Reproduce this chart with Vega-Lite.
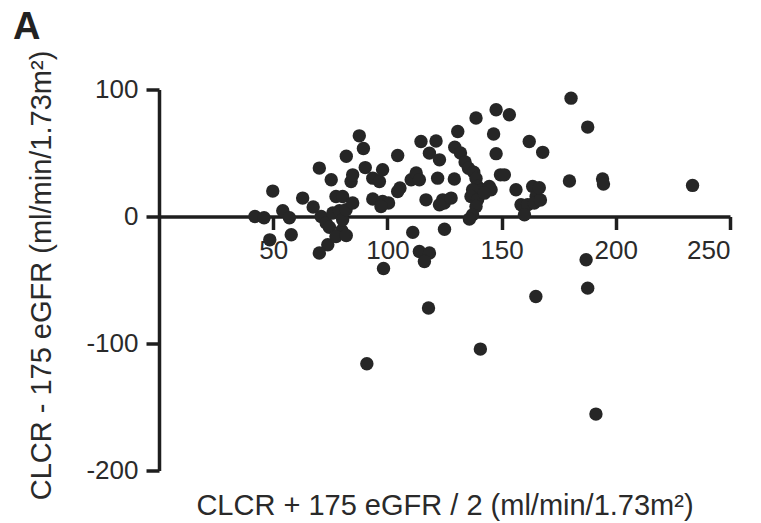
{
  "$schema": "https://vega.github.io/schema/vega-lite/v6.json",
  "width": 571,
  "height": 381,
  "autosize": "none",
  "padding": {"left": 159, "top": 89.5, "right": 31, "bottom": 52.5},
  "background": "white",
  "title": {"text": "A", "anchor": "start", "frame": "group", "fontSize": 38, "fontWeight": "bold", "font": "Liberation Sans", "color": "#222222", "baseline": "alphabetic", "dx": -146, "dy": 31},
  "config": {
    "view": {"stroke": null},
    "font": "Liberation Sans",
    "axis": {"domainColor": "#1e1e1e", "domainWidth": 3.5, "tickColor": "#1e1e1e", "tickWidth": 3.5, "tickSize": 13, "labelFont": "Liberation Sans", "labelFontSize": 26, "labelColor": "#2a2a2a", "titleFont": "Liberation Sans", "titleFontSize": 29, "titleFontWeight": "normal", "titleColor": "#2a2a2a", "grid": false, "labelPadding": 8}
  },
  "data": {"values": [
    {"x": 42, "y": 0}, {"x": 46, "y": -1}, {"x": 49.8, "y": 20}, {"x": 48.5, "y": -18.4}, {"x": 54.2, "y": 4.5},
    {"x": 57.1, "y": -1}, {"x": 57.9, "y": -14.4}, {"x": 62.9, "y": 14.5}, {"x": 67.5, "y": 7.5}, {"x": 70.2, "y": 38.1},
    {"x": 71, "y": 0}, {"x": 73.2, "y": -5.2}, {"x": 74.6, "y": -8.5}, {"x": 73.9, "y": -22.3}, {"x": 70.2, "y": -28.8},
    {"x": 75.4, "y": 28.9}, {"x": 77.5, "y": 15.7}, {"x": 76.1, "y": 2.7}, {"x": 79, "y": 4.5}, {"x": 80, "y": -11},
    {"x": 77.5, "y": -15.7}, {"x": 82, "y": -15}, {"x": 80.4, "y": -2.6}, {"x": 81.9, "y": 5.3}, {"x": 80.4, "y": 15.7},
    {"x": 84.8, "y": 10.6}, {"x": 82, "y": 47.5}, {"x": 84.1, "y": 27.6}, {"x": 84.8, "y": 32.8}, {"x": 87.7, "y": 63.5},
    {"x": 89.5, "y": 53.5}, {"x": 90.3, "y": 38.5}, {"x": 93.6, "y": 30.2}, {"x": 96.5, "y": 27.6}, {"x": 93.6, "y": 13.8},
    {"x": 97.9, "y": 36.8}, {"x": 97.9, "y": 11.8}, {"x": 100.5, "y": 10.6}, {"x": 97.2, "y": 7.9}, {"x": 104.5, "y": 48},
    {"x": 105.5, "y": 22.4}, {"x": 104.5, "y": 19.7}, {"x": 110.4, "y": 28.9}, {"x": 112.6, "y": 34.2}, {"x": 114, "y": 28.9},
    {"x": 114.7, "y": 59}, {"x": 121.3, "y": 59.5}, {"x": 118.4, "y": 49.9}, {"x": 122.8, "y": 44.6}, {"x": 116.9, "y": 13.1},
    {"x": 122, "y": 30.2}, {"x": 124.2, "y": 13.1}, {"x": 124.9, "y": 10.6}, {"x": 127.9, "y": 14.5}, {"x": 122.8, "y": 9.2},
    {"x": 111.1, "y": -12.5}, {"x": 125, "y": -10}, {"x": 114, "y": -27.6}, {"x": 118.4, "y": -28.8}, {"x": 116.2, "y": -35.4},
    {"x": 98.3, "y": -41}, {"x": 118, "y": -72}, {"x": 91, "y": -116}, {"x": 140.7, "y": -104.4}, {"x": 165, "y": -63},
    {"x": 187, "y": -34}, {"x": 187.7, "y": -56.4}, {"x": 191.3, "y": -155.6}, {"x": 129.5, "y": 54.5}, {"x": 132, "y": 50},
    {"x": 134, "y": 43}, {"x": 135.5, "y": 38}, {"x": 137.8, "y": 34.8}, {"x": 138.8, "y": 30}, {"x": 129.3, "y": 29.5},
    {"x": 139.5, "y": 23.6}, {"x": 141.7, "y": 21}, {"x": 140.3, "y": 18.4}, {"x": 137.3, "y": 21}, {"x": 136.6, "y": 15.7},
    {"x": 139.5, "y": 13.1}, {"x": 138.8, "y": 7.9}, {"x": 137.3, "y": 1.3}, {"x": 135.9, "y": -2}, {"x": 130.8, "y": 66.9},
    {"x": 138.8, "y": 77.5}, {"x": 147.6, "y": 84}, {"x": 153.4, "y": 80.1}, {"x": 146.5, "y": 65}, {"x": 147.6, "y": 49.5},
    {"x": 149.5, "y": 32.8}, {"x": 151.2, "y": 32.8}, {"x": 144.6, "y": 23.6}, {"x": 145.4, "y": 21}, {"x": 142.5, "y": 18.4},
    {"x": 162.1, "y": 59}, {"x": 168, "y": 50.5}, {"x": 156.3, "y": 21}, {"x": 158.5, "y": 9.2}, {"x": 163.6, "y": 23.6},
    {"x": 165.1, "y": 15.7}, {"x": 161.4, "y": 9.2}, {"x": 164.3, "y": 10.6}, {"x": 160, "y": 1.3}, {"x": 167, "y": 13},
    {"x": 166.5, "y": 22.6}, {"x": 179.7, "y": 28}, {"x": 180.4, "y": 93.2}, {"x": 187.7, "y": 70.4}, {"x": 194.2, "y": 29.5},
    {"x": 194.6, "y": 25.5}, {"x": 233.6, "y": 24.5}
  ]},
  "mark": {"type": "circle", "size": 180, "opacity": 1, "color": "#262626", "clip": false},
  "encoding": {
    "x": {"field": "x", "type": "quantitative", "scale": {"domain": [0, 250], "nice": false, "zero": false},
      "axis": {"values": [50, 100, 150, 200, 250], "offset": -254, "title": "CLCR + 175 eGFR / 2 (ml/min/1.73m²)", "titleBaseline": "alphabetic", "titleY": 297.5, "labelPadding": 8}},
    "y": {"field": "y", "type": "quantitative", "scale": {"domain": [-200, 100], "nice": false, "zero": false},
      "axis": {"values": [100, 0, -100, -200], "labelExpr": "datum.value + ''", "title": "CLCR - 175 eGFR (ml/min/1.73m²)", "titleBaseline": "alphabetic", "titleAngle": -90, "titleX": -109, "titleY": 185.5}}
  }
}
